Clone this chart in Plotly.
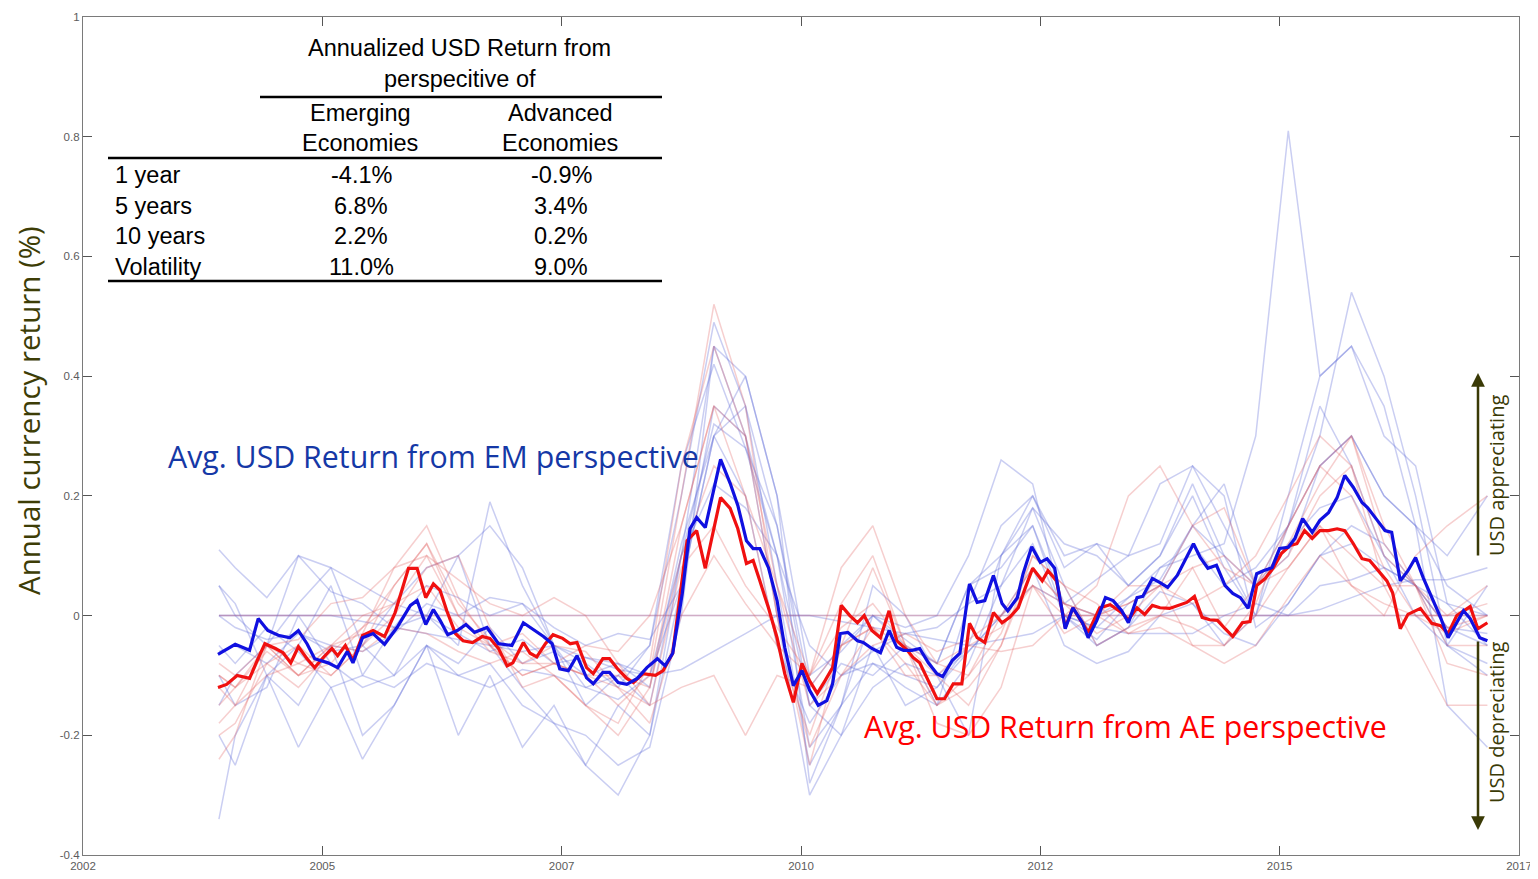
import plotly.graph_objects as go

# ---------------- data ----------------
EM_AVG_X = [2003.41, 2003.59, 2003.74, 2003.83, 2003.93, 2004.04, 2004.16, 2004.25, 2004.34, 2004.42,
            2004.56, 2004.66, 2004.76, 2004.82, 2004.92, 2005.03, 2005.15, 2005.28, 2005.42, 2005.49,
            2005.58, 2005.66, 2005.73, 2005.81, 2005.91, 2006.00, 2006.09, 2006.22, 2006.34, 2006.48,
            2006.60, 2006.70, 2006.81, 2006.90, 2006.98, 2007.07, 2007.16, 2007.26, 2007.33, 2007.43,
            2007.50, 2007.59, 2007.68, 2007.79, 2007.89, 2008.00, 2008.08, 2008.16, 2008.26, 2008.34,
            2008.41, 2008.50, 2008.58, 2008.66, 2008.76, 2008.84, 2008.93, 2009.00, 2009.07, 2009.16,
            2009.25, 2009.33, 2009.42, 2009.51, 2009.59, 2009.68, 2009.77, 2009.83, 2009.91, 2009.99,
            2010.09, 2010.15, 2010.24, 2010.33, 2010.42, 2010.50, 2010.57, 2010.66, 2010.74, 2010.83,
            2010.92, 2010.98, 2011.08, 2011.16, 2011.26, 2011.34, 2011.42, 2011.51, 2011.60, 2011.66,
            2011.76, 2011.82, 2011.91, 2012.00, 2012.07, 2012.15, 2012.26, 2012.34, 2012.44, 2012.50,
            2012.59, 2012.68, 2012.76, 2012.85, 2012.92, 2013.01, 2013.07, 2013.17, 2013.25, 2013.33,
            2013.43, 2013.51, 2013.60, 2013.67, 2013.75, 2013.84, 2013.93, 2014.01, 2014.09, 2014.17,
            2014.26, 2014.33, 2014.42, 2014.50, 2014.59, 2014.66, 2014.74, 2014.84, 2014.92, 2015.01,
            2015.10, 2015.18, 2015.27, 2015.36, 2015.42, 2015.52, 2015.60, 2015.67, 2015.76, 2015.84,
            2015.92, 2016.00, 2016.10, 2016.18, 2016.26, 2016.35, 2016.42, 2016.49, 2016.59, 2016.67]
EM_AVG_Y = [-0.065, -0.048, -0.058, -0.005, -0.025, -0.033, -0.037, -0.025, -0.047, -0.072,
            -0.079, -0.087, -0.060, -0.079, -0.037, -0.030, -0.048, -0.020, 0.017, 0.025,
            -0.015, 0.010, -0.008, -0.032, -0.025, -0.015, -0.028, -0.020, -0.047, -0.050,
            -0.012, -0.023, -0.035, -0.047, -0.089, -0.092, -0.067, -0.104, -0.114, -0.095,
            -0.095, -0.112, -0.115, -0.105, -0.087, -0.072, -0.084, -0.063, 0.037, 0.145,
            0.164, 0.147, 0.204, 0.261, 0.221, 0.184, 0.125, 0.112, 0.112, 0.080,
            0.025, -0.053, -0.117, -0.092, -0.125, -0.150, -0.142, -0.114, -0.030, -0.028,
            -0.042, -0.045, -0.055, -0.062, -0.025, -0.053, -0.058, -0.058, -0.055, -0.079,
            -0.097, -0.102, -0.075, -0.063, 0.053, 0.022, 0.025, 0.067, 0.020, 0.008,
            0.030, 0.070, 0.115, 0.089, 0.095, 0.079, -0.022, 0.013, -0.012, -0.037,
            -0.008, 0.030, 0.025, 0.008, -0.012, 0.030, 0.032, 0.062, 0.055, 0.047,
            0.067, 0.092, 0.120, 0.097, 0.079, 0.084, 0.050, 0.037, 0.030, 0.012,
            0.070, 0.075, 0.080, 0.112, 0.114, 0.129, 0.162, 0.139, 0.159, 0.172,
            0.197, 0.234, 0.214, 0.189, 0.180, 0.159, 0.142, 0.139, 0.058, 0.075,
            0.097, 0.063, 0.025, -0.003, -0.037, -0.012, 0.008, -0.005, -0.037, -0.042]

AE_AVG_X = [2003.41, 2003.50, 2003.61, 2003.74, 2003.82, 2003.90, 2004.01, 2004.09, 2004.17, 2004.25,
            2004.34, 2004.42, 2004.51, 2004.60, 2004.66, 2004.74, 2004.82, 2004.92, 2005.03, 2005.15,
            2005.26, 2005.40, 2005.49, 2005.58, 2005.66, 2005.73, 2005.80, 2005.89, 2005.97, 2006.07,
            2006.17, 2006.25, 2006.34, 2006.43, 2006.49, 2006.60, 2006.67, 2006.74, 2006.83, 2006.91,
            2007.01, 2007.09, 2007.16, 2007.26, 2007.33, 2007.43, 2007.50, 2007.59, 2007.68, 2007.75,
            2007.85, 2007.98, 2008.06, 2008.16, 2008.31, 2008.41, 2008.50, 2008.58, 2008.66, 2008.76,
            2008.84, 2008.93, 2009.00, 2009.07, 2009.16, 2009.25, 2009.33, 2009.42, 2009.51, 2009.59,
            2009.67, 2009.75, 2009.83, 2009.92, 2010.01, 2010.09, 2010.16, 2010.24, 2010.33, 2010.42,
            2010.50, 2010.61, 2010.67, 2010.74, 2010.83, 2010.92, 2011.00, 2011.09, 2011.18, 2011.26,
            2011.34, 2011.42, 2011.51, 2011.60, 2011.68, 2011.77, 2011.84, 2011.92, 2012.02, 2012.08,
            2012.17, 2012.26, 2012.34, 2012.50, 2012.62, 2012.73, 2012.85, 2012.92, 2013.01, 2013.09,
            2013.17, 2013.25, 2013.35, 2013.44, 2013.53, 2013.61, 2013.69, 2013.77, 2013.85, 2013.93,
            2014.01, 2014.11, 2014.19, 2014.26, 2014.35, 2014.43, 2014.52, 2014.61, 2014.68, 2014.76,
            2014.84, 2014.92, 2015.01, 2015.10, 2015.18, 2015.27, 2015.36, 2015.44, 2015.55, 2015.62,
            2015.68, 2015.76, 2015.84, 2015.97, 2016.09, 2016.18, 2016.26, 2016.35, 2016.49, 2016.57,
            2016.67]
AE_AVG_Y = [-0.120, -0.115, -0.100, -0.105, -0.075, -0.047, -0.055, -0.062, -0.079, -0.052,
            -0.072, -0.087, -0.070, -0.055, -0.067, -0.050, -0.075, -0.033, -0.025, -0.035,
            0.005, 0.079, 0.079, 0.030, 0.053, 0.042, 0.008, -0.030, -0.042, -0.045,
            -0.035, -0.038, -0.055, -0.084, -0.079, -0.045, -0.063, -0.069, -0.047, -0.032,
            -0.038, -0.047, -0.045, -0.087, -0.097, -0.072, -0.072, -0.090, -0.105, -0.112,
            -0.097, -0.100, -0.092, -0.063, 0.125, 0.142, 0.079, 0.137, 0.197, 0.179,
            0.145, 0.087, 0.092, 0.058, 0.013, -0.037, -0.097, -0.145, -0.080, -0.109,
            -0.130, -0.109, -0.087, 0.017, 0.000, -0.012, 0.000, -0.025, -0.037, 0.008,
            -0.042, -0.058, -0.070, -0.079, -0.109, -0.139, -0.139, -0.114, -0.114, -0.013,
            -0.037, -0.045, 0.005, -0.012, -0.003, 0.013, 0.045, 0.079, 0.058, 0.075,
            0.058, -0.020, 0.013, -0.028, 0.013, 0.018, 0.005, -0.007, 0.013, 0.002,
            0.017, 0.013, 0.012, 0.017, 0.022, 0.032, -0.003, -0.007, -0.008, -0.022,
            -0.035, -0.012, -0.010, 0.050, 0.062, 0.079, 0.104, 0.117, 0.120, 0.142,
            0.129, 0.142, 0.142, 0.145, 0.142, 0.120, 0.095, 0.092, 0.070, 0.058,
            0.038, -0.022, 0.002, 0.012, -0.013, -0.017, -0.030, 0.000, 0.015, -0.022,
            -0.012]

# individual currencies (sampled every 4 months)
CCY_X = [2003.42, 2003.59, 2003.92, 2004.25, 2004.59, 2004.92, 2005.25, 2005.59, 2005.92, 2006.25,
         2006.59, 2006.92, 2007.25, 2007.59, 2007.92, 2008.25, 2008.59, 2008.92, 2009.25, 2009.59,
         2009.92, 2010.25, 2010.59, 2010.92, 2011.25, 2011.59, 2011.92, 2012.25, 2012.59, 2012.92,
         2013.25, 2013.59, 2013.92, 2014.25, 2014.59, 2014.92, 2015.25, 2015.59, 2015.92, 2016.25,
         2016.67]

EM_CCY = [
    [0.0] * 41,
    [-0.34, -0.20, -0.10, -0.22, -0.12, -0.24, -0.15, -0.05, -0.20, -0.10,
     -0.22, -0.15, -0.25, -0.30, -0.20, 0.10, 0.45, 0.30, 0.00, -0.30,
     -0.20, -0.05, -0.15, -0.12, -0.05, 0.10, 0.20, 0.10, 0.12, 0.05,
     0.10, 0.22, 0.10, 0.00, 0.20, 0.40, 0.45, 0.35, 0.15, -0.15, -0.22],
    [0.00, -0.02, -0.04, -0.03, -0.06, -0.05, 0.02, 0.00, -0.03, -0.06,
     -0.04, -0.08, -0.07, -0.09, -0.10, 0.05, 0.30, 0.40, 0.20, -0.10,
     -0.06, 0.00, -0.04, -0.08, 0.05, 0.10, 0.15, 0.02, 0.00, 0.03,
     0.08, 0.10, 0.12, 0.30, 0.81, 0.40, 0.45, 0.30, 0.25, 0.02, -0.05],
    [0.11, 0.08, 0.03, 0.10, 0.04, 0.02, -0.02, 0.05, 0.03, 0.00,
     0.02, -0.02, -0.05, -0.03, -0.04, 0.05, 0.35, 0.30, 0.10, -0.15,
     -0.08, -0.10, -0.05, -0.08, 0.05, 0.08, 0.15, 0.00, -0.05, -0.02,
     0.08, 0.12, 0.05, 0.08, 0.15, 0.25, 0.30, 0.20, 0.15, 0.05, 0.00],
    [0.05, 0.00, -0.05, 0.10, 0.08, -0.05, -0.10, 0.00, -0.05, 0.19,
     0.05, -0.05, -0.08, -0.12, -0.05, 0.20, 0.49, 0.35, 0.05, -0.25,
     -0.15, 0.00, -0.05, -0.15, 0.02, 0.15, 0.20, 0.08, 0.12, 0.10,
     0.22, 0.25, 0.15, 0.05, 0.15, 0.30, 0.54, 0.40, 0.20, -0.05, -0.10],
    [-0.05, -0.08, -0.02, -0.06, -0.12, -0.10, -0.12, -0.08, -0.10, -0.12,
     -0.09, -0.10, -0.12, -0.10, -0.05, 0.25, 0.42, 0.28, 0.10, -0.22,
     -0.15, -0.08, -0.10, -0.12, -0.06, 0.00, 0.08, -0.05, -0.08, -0.06,
     0.00, 0.02, -0.03, -0.05, 0.02, 0.10, 0.12, 0.08, 0.05, -0.02, -0.05],
    [-0.06, -0.05, -0.08, -0.03, -0.05, -0.06, -0.03, 0.02, 0.00, 0.03,
     0.02, -0.05, -0.12, -0.14, -0.10, 0.10, 0.22, 0.18, 0.10, -0.05,
     -0.10, -0.06, -0.03, -0.02, 0.02, 0.05, 0.18, 0.12, 0.10, 0.05,
     0.10, 0.20, 0.08, 0.00, 0.00, 0.05, 0.06, 0.08, 0.05, 0.02, 0.00],
    [-0.15, -0.10, -0.05, 0.02, 0.08, 0.05, 0.02, 0.08, 0.10, -0.05,
     -0.12, -0.18, -0.25, -0.15, -0.20, 0.05, 0.30, 0.35, 0.15, -0.15,
     -0.20, -0.12, -0.08, -0.10, -0.06, 0.00, 0.05, 0.02, 0.06, 0.10,
     0.12, 0.25, 0.20, -0.02, 0.02, 0.10, 0.15, 0.12, 0.05, -0.02, -0.03],
    [-0.20, -0.25, -0.10, -0.05, 0.05, -0.10, -0.02, 0.00, 0.10, 0.15,
     0.08, -0.05, -0.15, -0.10, -0.15, 0.10, 0.32, 0.28, 0.15, -0.12,
     -0.05, 0.00, -0.02, 0.00, 0.10, 0.26, 0.22, 0.00, -0.02, 0.03,
     0.06, 0.15, 0.22, 0.05, 0.10, 0.25, 0.30, 0.20, 0.15, 0.10, 0.20],
    [-0.10, -0.15, -0.12, 0.00, -0.08, -0.12, -0.10, -0.05, -0.08, -0.02,
     -0.08, -0.06, -0.10, -0.08, -0.12, 0.12, 0.30, 0.20, -0.05, -0.18,
     -0.10, -0.08, -0.12, -0.15, -0.08, 0.05, 0.12, 0.00, -0.04, 0.02,
     0.05, 0.15, 0.10, 0.05, 0.12, 0.18, 0.20, 0.10, 0.05, -0.05, -0.08],
    [0.00, 0.00, 0.00, 0.00, 0.00, -0.01, -0.02, -0.03, -0.04, -0.05,
     -0.06, -0.05, -0.07, -0.08, -0.10, -0.09, -0.06, -0.03, 0.00, 0.00,
     -0.01, -0.02, -0.03, -0.04, -0.05, -0.04, -0.03, 0.00, -0.02, -0.03,
     -0.03, -0.03, 0.00, 0.02, 0.00, 0.01, 0.03, 0.05, 0.06, 0.06, 0.08],
    [0.05, 0.02, -0.10, -0.15, -0.05, -0.20, -0.15, -0.05, -0.10, -0.08,
     -0.15, -0.18, -0.20, -0.25, -0.22, 0.00, 0.45, 0.40, 0.20, -0.28,
     -0.15, 0.05, 0.00, -0.10, -0.20, 0.10, 0.18, 0.05, -0.05, -0.02,
     0.04, 0.02, -0.05, 0.00, 0.15, 0.35, 0.25, 0.10, 0.00, -0.05, 0.05],
]

AE_CCY = [
    [0.0] * 41,
    [-0.18, -0.15, -0.05, -0.08, -0.10, -0.05, 0.05, 0.12, 0.00, -0.05,
     -0.10, -0.08, -0.10, -0.12, -0.15, 0.08, 0.15, 0.05, -0.02, -0.10,
     0.08, 0.15, 0.00, -0.08, -0.10, -0.03, 0.10, 0.05, 0.02, -0.03,
     -0.02, -0.05, -0.05, 0.02, 0.15, 0.25, 0.20, 0.08, 0.00, 0.00, 0.02],
    [-0.10, -0.12, -0.08, -0.12, -0.06, -0.02, 0.02, 0.10, 0.00, -0.06,
     -0.08, -0.08, -0.05, -0.06, 0.00, 0.15, 0.35, 0.30, 0.05, -0.10,
     -0.02, 0.02, -0.05, -0.08, -0.05, -0.02, 0.05, -0.03, 0.00, 0.02,
     0.05, -0.05, -0.08, -0.05, 0.03, 0.10, 0.05, 0.00, 0.10, 0.15, 0.20],
    [-0.24, -0.20, -0.05, -0.10, -0.05, 0.00, 0.02, 0.05, -0.02, -0.05,
     -0.03, -0.08, -0.10, -0.15, -0.10, 0.20, 0.52, 0.35, 0.00, -0.25,
     -0.05, -0.02, -0.08, -0.15, -0.12, -0.05, 0.08, 0.02, -0.03, 0.00,
     0.05, 0.15, 0.08, 0.05, 0.15, 0.25, 0.30, 0.15, 0.05, -0.05, -0.05],
    [-0.12, -0.15, -0.10, -0.08, -0.05, -0.06, -0.02, -0.03, -0.06, -0.08,
     -0.06, -0.10, -0.15, -0.20, -0.12, 0.10, 0.25, 0.20, 0.05, -0.15,
     -0.10, -0.05, -0.03, -0.06, -0.04, 0.00, 0.05, 0.00, 0.00, 0.02,
     0.05, 0.08, 0.10, 0.05, 0.10, 0.20, 0.25, 0.10, 0.05, -0.02, 0.00],
    [-0.08, -0.10, -0.05, -0.04, 0.02, 0.03, 0.08, 0.10, 0.06, 0.02,
     0.00, 0.03, 0.00, -0.08, -0.15, -0.12, -0.10, -0.20, -0.10, -0.12,
     -0.05, -0.02, -0.10, -0.10, -0.05, -0.06, -0.05, 0.00, 0.05, 0.20,
     0.25, 0.15, 0.18, 0.05, 0.08, 0.15, 0.10, 0.05, -0.05, -0.15, -0.15],
    [-0.15, -0.12, -0.05, -0.10, -0.08, -0.02, 0.05, 0.12, 0.02, -0.04,
     -0.08, -0.05, -0.06, -0.12, -0.18, 0.00, 0.10, 0.02, -0.05, -0.10,
     0.02, 0.10, -0.05, -0.18, -0.20, -0.12, 0.05, 0.02, 0.00, -0.03,
     0.00, -0.02, -0.05, 0.00, 0.08, 0.15, 0.05, 0.02, 0.00, -0.03, 0.00],
    [-0.20, -0.18, -0.08, -0.05, -0.10, -0.05, 0.00, 0.08, 0.10, -0.02,
     -0.12, -0.10, -0.15, -0.18, -0.08, 0.25, 0.45, 0.30, 0.00, -0.22,
     -0.10, -0.02, -0.05, -0.10, -0.15, -0.05, 0.10, 0.05, -0.05, -0.02,
     0.00, 0.08, -0.02, 0.05, 0.12, 0.22, 0.30, 0.12, 0.05, -0.08, -0.10],
    [-0.10, -0.12, -0.06, -0.10, -0.05, -0.03, 0.08, 0.15, 0.03, -0.05,
     -0.10, -0.08, -0.10, -0.10, -0.12, 0.15, 0.35, 0.20, -0.05, -0.20,
     -0.05, 0.08, -0.05, -0.15, -0.10, 0.00, 0.08, 0.02, 0.00, 0.05,
     0.05, 0.02, 0.05, 0.10, 0.20, 0.30, 0.25, 0.05, 0.05, 0.00, 0.05],
]

X_TICKS = [2002, 2004.5, 2007, 2009.5, 2012, 2014.5, 2017]
X_TICK_LABELS = ["2002", "2005", "2007", "2010", "2012", "2015", "2017"]
Y_TICKS = [-0.4, -0.2, 0, 0.2, 0.4, 0.6, 0.8, 1]
Y_TICK_LABELS = ["-0.4", "-0.2", "0", "0.2", "0.4", "0.6", "0.8", "1"]

TABLE_HEADER = ["Annualized USD Return from", "perspecitive of"]
TABLE_COLS = [["Emerging", "Economies"], ["Advanced", "Economies"]]
TABLE_ROWS = ["1 year", "5 years", "10 years", "Volatility"]
TABLE_EM = ["-4.1%", "6.8%", "2.2%", "11.0%"]
TABLE_AE = ["-0.9%", "3.4%", "0.2%", "9.0%"]

# ---------------- layout helpers ----------------
# page has an 8px body margin, so the figure is drawn 8px smaller/shifted
OFF = 8
W, H = 1524, 863
L, R, T, B = 83, 1519, 17, 855   # plot area in page pixels


def px(x):
    return (x - L) / (R - L)


def py(y):
    return (B - y) / (B - T)


fig = go.Figure()

for ys in EM_CCY:
    fig.add_trace(go.Scatter(x=CCY_X, y=ys, mode="lines",
                             line=dict(color="rgba(95,105,215,0.33)", width=1.5),
                             hoverinfo="skip"))
for ys in AE_CCY:
    fig.add_trace(go.Scatter(x=CCY_X, y=ys, mode="lines",
                             line=dict(color="rgba(225,95,95,0.30)", width=1.5),
                             hoverinfo="skip"))

fig.add_trace(go.Scatter(x=AE_AVG_X, y=AE_AVG_Y, mode="lines",
                         line=dict(color="#f01010", width=3.2), name="AE"))
fig.add_trace(go.Scatter(x=EM_AVG_X, y=EM_AVG_Y, mode="lines",
                         line=dict(color="#1010e0", width=3.2), name="EM"))

ann = []
TFONT = dict(family="Liberation Sans, Arial, sans-serif", size=23.5, color="#000000")


def txt(text, x, y, xanchor="center", font=TFONT, **kw):
    ann.append(dict(text=text, x=px(x), y=py(y), xref="paper", yref="paper",
                    xanchor=xanchor, yanchor="middle", showarrow=False, font=font, **kw))


txt(TABLE_HEADER[0], 459, 48)
txt(TABLE_HEADER[1], 460, 79)
txt(TABLE_COLS[0][0], 360, 113)
txt(TABLE_COLS[0][1], 360, 143)
txt(TABLE_COLS[1][0], 560, 113)
txt(TABLE_COLS[1][1], 560, 143)
for i, lab in enumerate(TABLE_ROWS):
    yy = 175 + i * 30.7
    txt(lab, 113, yy, xanchor="left")
    txt(TABLE_EM[i], 361, yy)
    txt(TABLE_AE[i], 561, yy)

# series labels
txt("Avg. USD Return from EM perspective", 166, 456, xanchor="left",
    font=dict(family="Open Sans, Noto Sans, sans-serif", size=30.3, color="#1538a6"))
txt("Avg. USD Return from AE perspective", 862, 726, xanchor="left",
    font=dict(family="Open Sans, Noto Sans, sans-serif", size=30.3, color="#ff0000"))

# y-axis title
txt("Annual currency return (%)", 28, 411,
    font=dict(family="Open Sans, Noto Sans, sans-serif", size=29.5, color="#3d3d06"),
    textangle=-90)

# direction labels
OLIVE = "#3a3a06"
txt("USD appreciating", 1496, 476,
    font=dict(family="Open Sans, Noto Sans, sans-serif", size=20, color=OLIVE), textangle=-90)
txt("USD depreciating", 1496, 722,
    font=dict(family="Open Sans, Noto Sans, sans-serif", size=20, color=OLIVE), textangle=-90)

# arrows
ann.append(dict(x=px(1478), y=py(373), xref="paper", yref="paper", text="",
                showarrow=True, ax=0, ay=184, arrowhead=2, arrowsize=1.1,
                arrowwidth=2.5, arrowcolor=OLIVE))
ann.append(dict(x=px(1478), y=py(830), xref="paper", yref="paper", text="",
                showarrow=True, ax=0, ay=-190, arrowhead=2, arrowsize=1.1,
                arrowwidth=2.5, arrowcolor=OLIVE))

shapes = []
for (x0, x1, yy) in [(260, 662, 97), (108, 662, 158), (108, 662, 281)]:
    shapes.append(dict(type="line", xref="paper", yref="paper",
                       x0=px(x0), x1=px(x1), y0=py(yy), y1=py(yy),
                       line=dict(color="#000000", width=2.5)))

AX = dict(showline=True, linecolor="#7a7a7a", linewidth=1.2, mirror="allticks",
          ticks="inside", ticklen=9, tickcolor="#555555", tickwidth=1.2,
          showgrid=False, zeroline=False, automargin=False,
          tickfont=dict(family="Liberation Sans, Arial, sans-serif", size=11.5, color="#5c5c5c"))

fig.update_layout(
    width=W, height=H,
    margin=dict(l=L - OFF, r=W - (R - OFF), t=T - OFF, b=H - (B - OFF), pad=0),
    paper_bgcolor="white", plot_bgcolor="white",
    showlegend=False,
    xaxis=dict(range=[2002, 2017], tickvals=X_TICKS, ticktext=X_TICK_LABELS, **AX),
    yaxis=dict(range=[-0.4, 1], tickvals=Y_TICKS, ticktext=Y_TICK_LABELS, **AX),
    annotations=ann, shapes=shapes,
)

fig.write_html("out.html")
